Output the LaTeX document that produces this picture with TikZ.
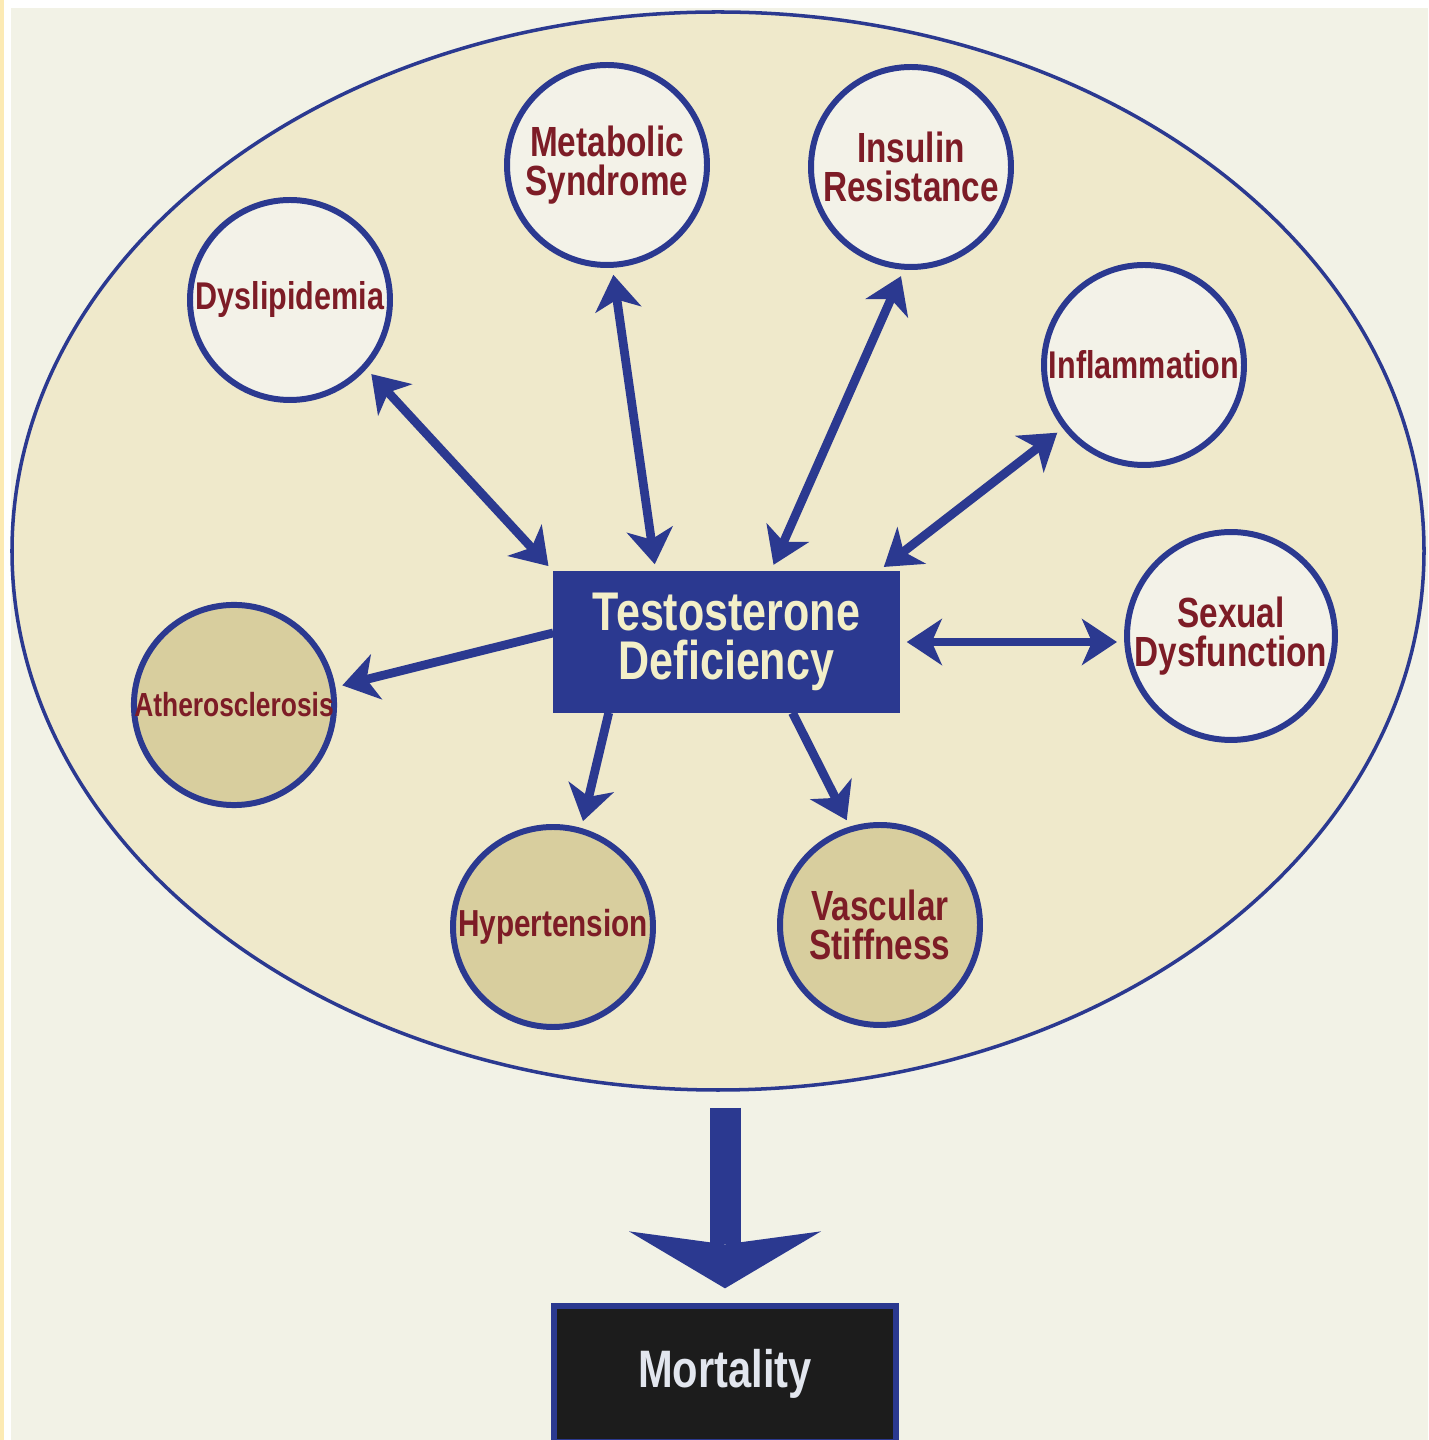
\documentclass[tikz,border=0pt]{standalone}
\usepackage{fontspec}
\newfontfamily\diagfont[FakeStretch=0.79]{Liberation Sans}
\definecolor{deepnavy}{RGB}{43, 57, 144}
\definecolor{wine}{RGB}{125, 28, 38}
\definecolor{panelbg}{RGB}{242, 242, 230}
\definecolor{ovalfill}{RGB}{239, 233, 203}
\definecolor{palefill}{RGB}{243, 242, 232}
\definecolor{tanfill}{RGB}{216, 206, 158}
\definecolor{creamtext}{RGB}{243, 239, 200}
\definecolor{greytext}{RGB}{226, 230, 238}
\definecolor{edgeyellow}{RGB}{252, 234, 180}
\usetikzlibrary{
    shapes.geometric,
    arrows.meta,
    positioning
}

\begin{document}
\begin{tikzpicture}[
    risk/.style={circle, draw=deepnavy, line width=1.7pt, minimum size=2cm, inner sep=0pt,
        align=center, text=wine, font=\diagfont\bfseries\fontsize{12}{11.2}\selectfont},
    lightrisk/.style={risk, fill=palefill},
    darkrisk/.style={risk, fill=tanfill},
    oneway/.style={deepnavy, line width=2.5pt, shorten >=2pt,
        -{Stealth[length=0.35cm, width=0.46cm, inset=0.1cm]}},
    twoway/.style={oneway, shorten <=2pt,
        {Stealth[length=0.35cm, width=0.46cm, inset=0.1cm]}-{Stealth[length=0.35cm, width=0.46cm, inset=0.1cm]}}
]
    \useasboundingbox (0,0) rectangle (14.28,14.40);

    % Page background
    \fill[white] (0,0) rectangle (14.28,14.40);
    \fill[edgeyellow] (0,0) rectangle (0.035,14.40);
    \fill[panelbg] (0.11,0) rectangle (14.28,14.32);

    % Big oval
    \node[ellipse, draw=deepnavy, line width=1pt, fill=ovalfill,
          minimum width=14.12cm, minimum height=10.78cm] (oval) at (7.18,8.89) {};

    % Central box
    \node[draw=deepnavy, line width=1pt, fill=deepnavy, minimum width=3.43cm, minimum height=1.38cm,
          align=center, text=creamtext, font=\diagfont\bfseries\fontsize{15.5}{14}\selectfont]
          (td) at (7.265,7.98) {Testosterone\\Deficiency};

    % Upper conditions
    \node[lightrisk, font=\diagfont\bfseries\fontsize{11}{10}\selectfont] (dys) at (2.90,11.40) {Dyslipidemia};
    \node[lightrisk] (met) at (6.07,12.75) {Metabolic\\Syndrome};
    \node[lightrisk] (ins) at (9.11,12.73) {Insulin\\Resistance};
    \node[lightrisk, font=\diagfont\bfseries\fontsize{11}{10}\selectfont] (infl) at (11.44,10.75) {Inflammation};
    \node[lightrisk] (sex) at (12.31,8.04) {Sexual\\Dysfunction};

    % Vascular conditions
    \node[darkrisk, font=\diagfont\bfseries\fontsize{9.5}{10}\selectfont] (ath) at (2.34,7.35) {Atherosclerosis};
    \node[darkrisk, font=\diagfont\bfseries\fontsize{10.7}{10}\selectfont] (hyp) at (5.53,5.13) {Hypertension};
    \node[darkrisk] (vas) at (8.80,5.15) {Vascular\\Stiffness};

    % Two-way links
    \draw[twoway] (dys.-42) -- (td.north west);
    \draw[twoway] (met.-87) -- (td.135);
    \draw[twoway] (ins.-94) -- (td.58);
    \draw[twoway] (infl.218) -- (td.25);
    \draw[twoway] (td.east) -- (td.east -| sex.west);

    % One-way links
    \draw[oneway] (td.177) -- (ath.10);
    \draw[oneway] (td.-149) -- (hyp.74);
    \draw[oneway] (td.-47) -- (vas.107);

    % Outcome
    \node[draw=deepnavy, line width=1.5pt, fill=black!89, minimum width=3.42cm, minimum height=1.36cm,
          text=greytext, font=\diagfont\bfseries\fontsize{15}{15}\selectfont]
          (mort) at (7.25,0.66) {Mortality};
    \draw[deepnavy, line width=0.31cm, shorten <=0.16cm, shorten >=0.15cm,
          -{Stealth[length=0.57cm, width=1.92cm, inset=0.13cm, line width=0pt]}]
          (oval.south -| mort.north) -- (mort.north);
\end{tikzpicture}
\end{document}
